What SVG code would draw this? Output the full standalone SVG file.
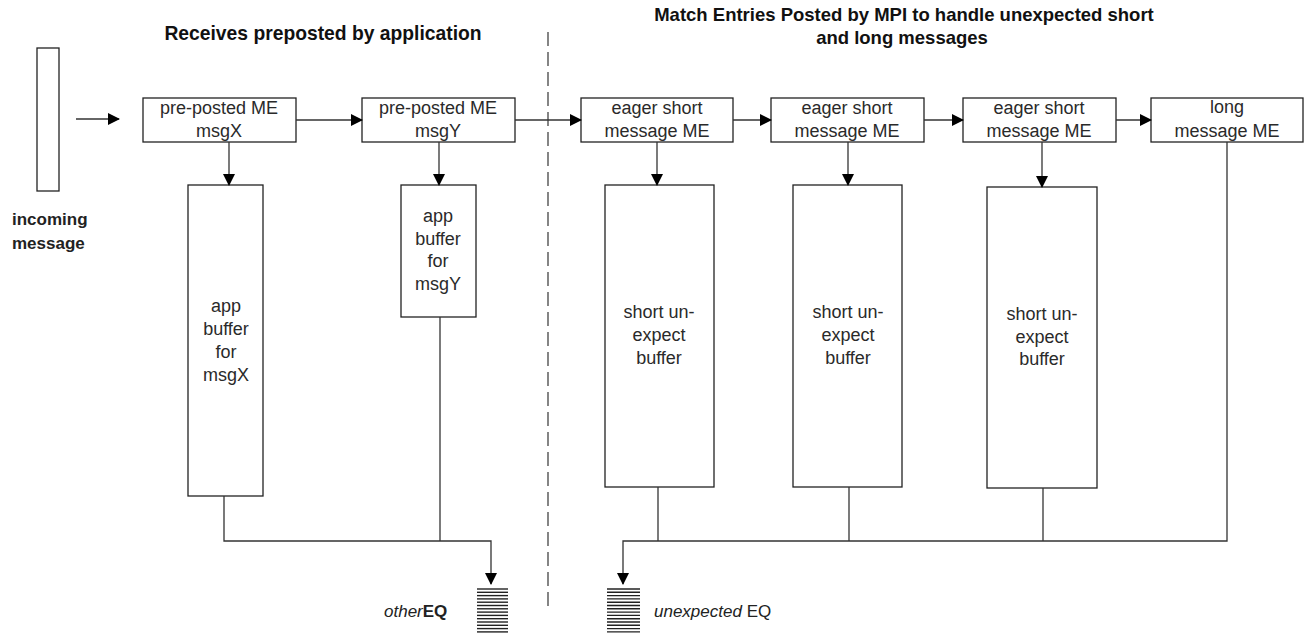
<svg xmlns="http://www.w3.org/2000/svg" width="1307" height="635" viewBox="0 0 1307 635">
<defs>
<marker id="ah" markerWidth="12" markerHeight="12" refX="11" refY="6" orient="auto" markerUnits="userSpaceOnUse">
<path d="M0,0 L12,6 L0,12 Z" fill="#000"/>
</marker>
<style>
.box{fill:#fff;stroke:#222;stroke-width:1.3}
.ln{fill:none;stroke:#333;stroke-width:1.3}
.t{font-family:"Liberation Sans",Arial,sans-serif;font-size:18px;fill:#2a2a2a;text-anchor:middle}
.h{font-family:"Liberation Sans",Arial,sans-serif;font-size:18.5px;font-weight:bold;fill:#111;text-anchor:middle}
.lb{font-family:"Liberation Sans",Arial,sans-serif;font-size:17px;font-weight:bold;fill:#222}
.q{stroke:#222;stroke-width:1.4}
</style>
</defs>
<rect width="1307" height="635" fill="#fff"/>

<text class="h" x="323" y="40" style="font-size:19.3px">Receives preposted by application</text>
<text class="h" x="904" y="21">Match Entries Posted by MPI to handle unexpected short</text>
<text class="h" x="902" y="44">and long messages</text>

<line x1="548" y1="32" x2="548" y2="606" stroke="#444" stroke-width="1.3" stroke-dasharray="14,6"/>

<g id="incoming">
<rect class="box" x="37" y="48" width="22" height="143"/>
<text class="lb" x="12" y="225">incoming</text>
<text class="lb" x="12" y="249">message</text>
</g>

<g id="me-msgX"><rect class="box" x="143" y="98" width="153" height="44"/>
<text class="t" x="219" y="114">pre-posted ME</text><text class="t" x="219" y="137">msgX</text></g>
<g id="me-msgY"><rect class="box" x="362" y="98" width="153" height="44"/>
<text class="t" x="438" y="114">pre-posted ME</text><text class="t" x="438" y="137">msgY</text></g>
<g id="me-eager1"><rect class="box" x="581" y="98" width="152" height="44"/>
<text class="t" x="657" y="114">eager short</text><text class="t" x="657" y="137">message ME</text></g>
<g id="me-eager2"><rect class="box" x="771" y="98" width="153" height="44"/>
<text class="t" x="847" y="114">eager short</text><text class="t" x="847" y="137">message ME</text></g>
<g id="me-eager3"><rect class="box" x="963" y="98" width="153" height="44"/>
<text class="t" x="1039" y="114">eager short</text><text class="t" x="1039" y="137">message ME</text></g>
<g id="me-long"><rect class="box" x="1151" y="98" width="152" height="44"/>
<text class="t" x="1227" y="113">long</text><text class="t" x="1227" y="137">message ME</text></g>

<g id="buf-msgX"><rect class="box" x="188" y="185" width="75" height="311"/>
<text class="t" x="226" y="312">app</text><text class="t" x="226" y="335">buffer</text><text class="t" x="226" y="358">for</text><text class="t" x="226" y="381">msgX</text></g>
<g id="buf-msgY"><rect class="box" x="401" y="185" width="75" height="132"/>
<text class="t" x="438" y="222">app</text><text class="t" x="438" y="245">buffer</text><text class="t" x="438" y="267">for</text><text class="t" x="438" y="290">msgY</text></g>
<g id="buf-short1"><rect class="box" x="605" y="185" width="109" height="302"/>
<text class="t" x="659" y="318">short un-</text><text class="t" x="659" y="341">expect</text><text class="t" x="659" y="364">buffer</text></g>
<g id="buf-short2"><rect class="box" x="793" y="185" width="109" height="302"/>
<text class="t" x="848" y="318">short un-</text><text class="t" x="848" y="341">expect</text><text class="t" x="848" y="364">buffer</text></g>
<g id="buf-short3"><rect class="box" x="987" y="187" width="110" height="301"/>
<text class="t" x="1042" y="320">short un-</text><text class="t" x="1042" y="343">expect</text><text class="t" x="1042" y="365">buffer</text></g>

<g id="otherEQ">
<g class="q">
<line x1="477" y1="589" x2="508" y2="589"/><line x1="477" y1="592.3" x2="508" y2="592.3"/><line x1="477" y1="595.6" x2="508" y2="595.6"/><line x1="477" y1="598.9" x2="508" y2="598.9"/><line x1="477" y1="602.2" x2="508" y2="602.2"/><line x1="477" y1="605.5" x2="508" y2="605.5"/><line x1="477" y1="608.8" x2="508" y2="608.8"/><line x1="477" y1="612.1" x2="508" y2="612.1"/><line x1="477" y1="615.4" x2="508" y2="615.4"/><line x1="477" y1="618.7" x2="508" y2="618.7"/><line x1="477" y1="622" x2="508" y2="622"/><line x1="477" y1="625.3" x2="508" y2="625.3"/><line x1="477" y1="628.6" x2="508" y2="628.6"/><line x1="477" y1="631.9" x2="508" y2="631.9"/>
</g>
<text class="lb" x="384" y="617" style="font-weight:normal"><tspan font-style="italic">other</tspan><tspan font-weight="bold">EQ</tspan></text>
</g>
<g id="unexpectedEQ">
<g class="q">
<line x1="607" y1="589" x2="640" y2="589"/><line x1="607" y1="592.3" x2="640" y2="592.3"/><line x1="607" y1="595.6" x2="640" y2="595.6"/><line x1="607" y1="598.9" x2="640" y2="598.9"/><line x1="607" y1="602.2" x2="640" y2="602.2"/><line x1="607" y1="605.5" x2="640" y2="605.5"/><line x1="607" y1="608.8" x2="640" y2="608.8"/><line x1="607" y1="612.1" x2="640" y2="612.1"/><line x1="607" y1="615.4" x2="640" y2="615.4"/><line x1="607" y1="618.7" x2="640" y2="618.7"/><line x1="607" y1="622" x2="640" y2="622"/><line x1="607" y1="625.3" x2="640" y2="625.3"/><line x1="607" y1="628.6" x2="640" y2="628.6"/><line x1="607" y1="631.9" x2="640" y2="631.9"/>
</g>
<text class="lb" x="654" y="617" style="font-weight:normal"><tspan font-style="italic">unexpected</tspan><tspan> EQ</tspan></text>
</g>

<g id="connectors">
<line class="ln" x1="76" y1="119" x2="119" y2="119" marker-end="url(#ah)"/>
<line class="ln" x1="296" y1="120" x2="362" y2="120" marker-end="url(#ah)"/>
<line class="ln" x1="515" y1="120" x2="581" y2="120" marker-end="url(#ah)"/>
<line class="ln" x1="733" y1="120" x2="771" y2="120" marker-end="url(#ah)"/>
<line class="ln" x1="924" y1="120" x2="963" y2="120" marker-end="url(#ah)"/>
<line class="ln" x1="1116" y1="120" x2="1151" y2="120" marker-end="url(#ah)"/>
<line class="ln" x1="229" y1="142" x2="229" y2="185" marker-end="url(#ah)"/>
<line class="ln" x1="439" y1="142" x2="439" y2="185" marker-end="url(#ah)"/>
<line class="ln" x1="657" y1="142" x2="657" y2="185" marker-end="url(#ah)"/>
<line class="ln" x1="848" y1="142" x2="848" y2="185" marker-end="url(#ah)"/>
<line class="ln" x1="1042" y1="142" x2="1042" y2="187" marker-end="url(#ah)"/>
<polyline class="ln" points="224,496 224,541 491,541 491,584" marker-end="url(#ah)"/>
<line class="ln" x1="440" y1="317" x2="440" y2="541"/>
<polyline class="ln" points="1227,142 1227,541 623,541 623,584" marker-end="url(#ah)"/>
<line class="ln" x1="658" y1="487" x2="658" y2="541"/>
<line class="ln" x1="849" y1="487" x2="849" y2="541"/>
<line class="ln" x1="1043" y1="488" x2="1043" y2="541"/>
</g>
</svg>
